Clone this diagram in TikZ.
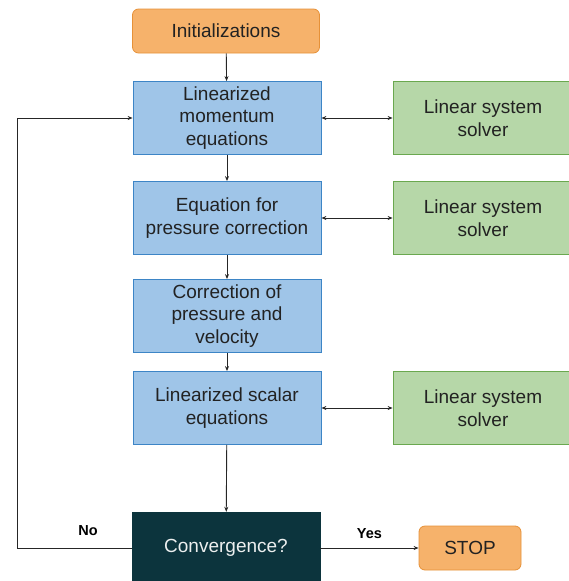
\documentclass[tikz,border=0pt]{standalone}
\usepackage{fontspec}
\setmainfont{Liberation Sans}
\usetikzlibrary{arrows.meta}
\definecolor{initorange}{HTML}{F6B26B}
\definecolor{initedge}{HTML}{E69138}
\definecolor{stepblue}{HTML}{9FC5E8}
\definecolor{stepedge}{HTML}{3D85C6}
\definecolor{solvegreen}{HTML}{B6D7A8}
\definecolor{solveedge}{HTML}{6AA84F}
\definecolor{convteal}{HTML}{0C343D}
\definecolor{boxtext}{HTML}{222222}

\begin{document}
\begin{tikzpicture}[x=1pt, y=-1pt,
  every node/.style={font=\fontsize{19}{22.5}\selectfont, align=center, inner sep=0pt, text=boxtext},
  termbox/.style={draw=initedge, fill=initorange, rounded corners=6pt, minimum height=44pt, line width=0.8pt},
  stepbox/.style={draw=stepedge, fill=stepblue, minimum width=188pt, minimum height=73pt, line width=0.8pt},
  solvebox/.style={draw=solveedge, fill=solvegreen, minimum width=180pt, minimum height=73pt, line width=0.8pt},
  convbox/.style={draw=convteal, fill=convteal, text=white!92!convteal, minimum width=188pt, minimum height=72pt},
  flow/.style={-{Stealth[length=5pt,width=4pt]}, line width=0.9pt, black!85},
  both/.style={{Stealth[length=5pt,width=4pt]}-{Stealth[length=5pt,width=4pt]}, line width=0.9pt, black!85},
  answer/.style={font=\fontsize{14.5}{16}\selectfont\bfseries, text=black}]
\useasboundingbox (0,0) rectangle (569,581);

% Start
\node[termbox, minimum width=187pt] (init) at (226,31) {Initializations};

% Main loop
\node[stepbox] (mom) at (227,118) {Linearized\\momentum\\equations};
\node[stepbox] (press) at (227,218) {Equation for\\pressure correction};
\node[stepbox] (corr) at (227,316) {Correction of\\pressure and\\velocity};
\node[stepbox] (scalar) at (227,408) {Linearized scalar\\equations};

% Solvers
\node[solvebox] (solve1) at (483,118) {Linear system\\solver};
\node[solvebox] (solve2) at (483,218) {Linear system\\solver};
\node[solvebox] (solve3) at (483,408) {Linear system\\solver};

% Check and stop
\node[convbox] (conv) at (226,548) {Convergence?};
\node[termbox, minimum width=102pt] (stop) at (470,548) {STOP};

% Arrows down
\draw[flow] (init) -- (mom);
\draw[flow] (mom) -- (press);
\draw[flow] (press) -- (corr);
\draw[flow] (corr) -- (scalar);
\draw[flow] (scalar) -- (conv);

% Arrows to solvers
\draw[both] (mom) -- (solve1);
\draw[both] (press) -- (solve2);
\draw[both] (scalar) -- (solve3);

% Yes
\draw[flow] (conv) -- (stop) node[answer, midway, above=9pt] (yes) {Yes};

% No, back to start of loop
\coordinate (back) at (17,548);
\coordinate (up) at (17,118);
\draw[flow] (conv.west) -- (back) -- (up) -- (mom.west);
\node[answer] (no) at (88,531) {No};
\end{tikzpicture}
\end{document}
